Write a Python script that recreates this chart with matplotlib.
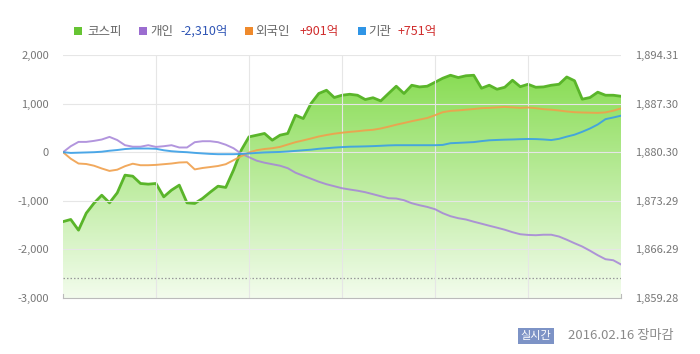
import numpy as np
import pandas as pd
import matplotlib
matplotlib.use("Agg")
import matplotlib.pyplot as plt
import matplotlib.dates as mdates
from matplotlib.patches import Rectangle

plt.rcParams['font.family'] = ['Noto Sans CJK KR', 'DejaVu Sans']

# ---------------- data ----------------
times = pd.date_range('2016-02-16 09:00', '2016-02-16 15:00', freq='5min')

kospi = [1870.29, 1870.60, 1869.06, 1871.51, 1872.95, 1874.10, 1873.00, 1874.44, 1876.99, 1876.84,
         1875.79, 1875.69, 1875.79, 1873.86, 1874.83, 1875.55, 1873.00, 1872.91, 1873.63, 1874.54,
         1875.40, 1875.22, 1877.71, 1880.59, 1882.51, 1882.75, 1883.00, 1882.03, 1882.75, 1883.00,
         1885.63, 1885.15, 1887.31, 1888.76, 1889.23, 1888.18, 1888.51, 1888.65, 1888.51, 1887.89,
         1888.15, 1887.69, 1888.76, 1889.81, 1888.76, 1889.95, 1889.71, 1889.81, 1890.38, 1890.96,
         1891.39, 1891.06, 1891.32, 1891.39, 1889.52, 1889.95, 1889.37, 1889.66, 1890.67, 1889.74,
         1890.09, 1889.66, 1889.71, 1889.95, 1890.09, 1891.14, 1890.60, 1887.94, 1888.18, 1888.95,
         1888.51, 1888.51, 1888.36]

individual = [0, 123, 212, 212, 233, 261, 315, 250, 144, 113,
              113, 144, 109, 123, 144, 97, 97, 206, 226, 226,
              206, 154, 82, -31, -103, -175, -216, -247, -278, -329,
              -422, -484, -545, -607, -659, -700, -741, -768, -792, -823,
              -864, -906, -947, -953, -988, -1050, -1091, -1126, -1173, -1255,
              -1317, -1358, -1385, -1430, -1471, -1513, -1553, -1595, -1646, -1688,
              -1702, -1708, -1698, -1698, -1735, -1801, -1873, -1941, -2027, -2120,
              -2202, -2223, -2310]

foreign = [0, -134, -233, -243, -278, -335, -385, -360, -288, -237,
           -268, -268, -261, -247, -233, -212, -206, -354, -325, -305,
           -284, -247, -165, -82, -6, 41, 66, 82, 109, 158,
           206, 243, 282, 323, 354, 381, 401, 418, 432, 449,
           461, 488, 525, 566, 601, 638, 671, 704, 761, 823,
           850, 860, 875, 889, 906, 912, 922, 932, 922, 912,
           920, 906, 885, 875, 858, 838, 823, 817, 813, 809,
           819, 854, 901]

institution = [0, -15, -10, -5, 0, 10, 30, 45, 65, 76,
               76, 76, 70, 40, 20, 8, 0, -14, -25, -35,
               -41, -41, -41, -35, -25, -14, -5, 0, 5, 15,
               27, 40, 52, 70, 82, 95, 105, 113, 116, 120,
               125, 132, 140, 144, 144, 144, 144, 144, 144, 150,
               185, 192, 200, 208, 228, 245, 252, 258, 262, 268,
               272, 270, 262, 250, 275, 320, 360, 420, 488, 570,
               680, 714, 751]

prev_close = 1862.20

left_ticks = [-3000, -2000, -1000, 0, 1000, 2000]
left_labels = ['-3,000', '-2,000', '-1,000', '0', '1,000', '2,000']
right_ticks = [1859.28, 1866.29, 1873.29, 1880.30, 1887.30, 1894.31]
right_labels = ['1,859.28', '1,866.29', '1,873.29', '1,880.30', '1,887.30', '1,894.31']
hour_ticks = ['10:00', '11:00', '12:00', '13:00', '14:00']

legend_items = [('코스피', '', '#66c433', '#666666'),
                ('개인', '-2,310억', '#9b6dd0', '#2f55b5'),
                ('외국인', '+901억', '#ef8a2c', '#d02c2c'),
                ('기관', '+751억', '#2f95e6', '#d02c2c')]

# ---------------- figure ----------------
W, H = 700, 354
fig = plt.figure(figsize=(W / 100, H / 100), dpi=100)
fig.patch.set_facecolor('white')

pos = [63 / W, 1 - 298 / H, (621 - 63) / W, (298 - 55) / H]
axk = fig.add_axes(pos)          # KOSPI (right scale), drawn underneath
ax = axk.twinx()                  # flows (left scale), drawn on top
ax.set_zorder(axk.get_zorder() + 1)
ax.patch.set_visible(False)

x = mdates.date2num(times.to_pydatetime())
xmin, xmax = x[0], x[-1]

# KOSPI gradient area
axk.set_xlim(xmin, xmax)
axk.set_ylim(right_ticks[0], right_ticks[-1])
poly = axk.fill_between(x, kospi, right_ticks[0], color='none', linewidth=0)
top_c = np.array([0x80, 0xda, 0x48]) / 255.0
bot_c = np.array([0xf3, 0xfc, 0xed]) / 255.0
tt = np.linspace(0, 1, 256)[:, None]
grad = (top_c[None, :] * (1 - tt) + bot_c[None, :] * tt)[:, None, :]
im = axk.imshow(grad, extent=[xmin, xmax, right_ticks[0], right_ticks[-1]],
                aspect='auto', origin='upper', zorder=1, interpolation='bilinear')
im.set_clip_path(poly.get_paths()[0], transform=axk.transData)
axk.plot(x, kospi, color='#5ab52a', lw=2.0, zorder=3, solid_joinstyle='round')
axk.axhline(prev_close, color='#999999', lw=0.9, ls=(0, (1.2, 1.6)), zorder=2)

# flows
ax.set_xlim(xmin, xmax)
ax.set_ylim(left_ticks[0], left_ticks[-1])
ax.plot(x, individual, color='#a583d8', lw=1.4, alpha=0.85, zorder=4)
ax.plot(x, foreign, color='#f0a04c', lw=1.4, alpha=0.9, zorder=4)
ax.plot(x, institution, color='#3a9fe6', lw=1.4, alpha=0.9, zorder=4)

# grid
for v in left_ticks[1:]:
    ax.axhline(v, color='#e6e6e6', lw=0.8, zorder=2)
hour_pos = [mdates.date2num(pd.Timestamp('2016-02-16 ' + h).to_pydatetime()) for h in hour_ticks]
for hp in hour_pos:
    ax.axvline(hp, color='#e6e6e6', lw=0.8, zorder=2)

# axes styling
for a in (ax, axk):
    for s in a.spines.values():
        s.set_visible(False)
ax.spines['bottom'].set_visible(True)
ax.spines['bottom'].set_color('#bbbbbb')
ax.spines['bottom'].set_linewidth(0.8)
for xe in (0, 1):
    ax.plot([xe, xe], [0, 0.016], transform=ax.transAxes, color='#bbbbbb', lw=0.8, clip_on=False)

ax.yaxis.tick_left()
ax.set_yticks(left_ticks)
ax.set_yticklabels(left_labels)
ax.tick_params(axis='y', length=0, pad=10, labelsize=8, labelcolor='#777777')

axk.yaxis.tick_right()
axk.set_yticks(right_ticks)
axk.set_yticklabels(right_labels)
axk.tick_params(axis='y', length=0, pad=10, labelsize=8, labelcolor='#777777')

ax.set_xticks(hour_pos)
ax.set_xticklabels(hour_ticks)
ax.tick_params(axis='x', length=0, pad=8, labelsize=8, labelcolor='#777777')
axk.set_xticks([])

# legend
ly = 1 - 31 / H
sq = [74, 139, 245, 358]
name_x = [87, 150, 255, 368]
val_x = [None, 180, 300, 398]
for i, (name, val, c, vc) in enumerate(legend_items):
    fig.add_artist(Rectangle((sq[i] / W, ly - 4 / H), 8 / W, 8 / H,
                             transform=fig.transFigure, facecolor=c, edgecolor='none'))
    fig.text(name_x[i] / W, ly, name, fontsize=9, color='#666666', va='center', ha='left')
    if val:
        fig.text(val_x[i] / W, ly, val, fontsize=9, color=vc, va='center', ha='left')

# bottom-right status
fig.text(536 / W, 1 - 336 / H, '실시간', fontsize=8, color='white', ha='center', va='center',
         bbox=dict(boxstyle='square,pad=0.25', facecolor='#7d93c6', edgecolor='none'))
fig.text(568 / W, 1 - 336 / H, '2016.02.16 장마감', fontsize=9.5, color='#8a8a8a',
         ha='left', va='center')

fig.savefig('out.png', dpi=100, facecolor='white')
